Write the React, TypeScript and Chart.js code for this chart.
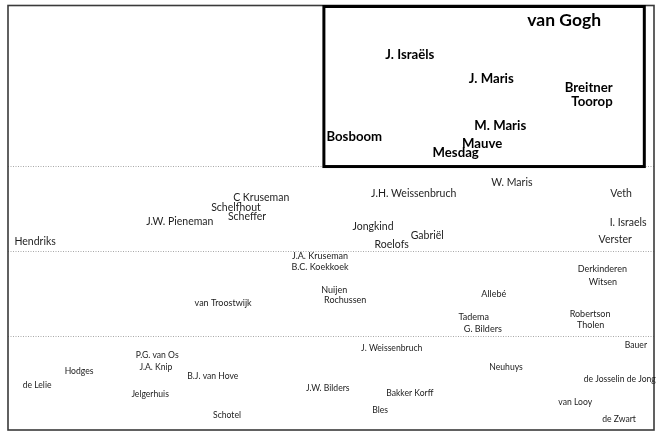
import React, { useEffect, useRef } from "react";
import { Chart, registerables } from "chart.js";

Chart.register(...registerables);

// Painter names and their positions on the chart (x: 0-100, y: 0-100)
const names = [
  "van Gogh", "J. Israëls", "J. Maris", "Breitner", "Toorop", "M. Maris", "Bosboom", "Mauve", "Mesdag",
  "C Kruseman", "Schelfhout", "Scheffer", "J.W. Pieneman", "Hendriks", "W. Maris", "J.H. Weissenbruch",
  "Veth", "Jongkind", "Gabriël", "Roelofs", "I. Israels", "Verster",
  "J.A. Kruseman", "B.C. Koekkoek", "Nuijen", "Rochussen", "van Troostwijk", "Derkinderen", "Witsen",
  "Allebé", "Tadema", "G. Bilders", "Robertson", "Tholen",
  "P.G. van Os", "J.A. Knip", "Hodges", "B.J. van Hove", "de Lelie", "Jelgerhuis", "Schotel", "J.W. Bilders",
  "J. Weissenbruch", "Bauer", "Neuhuys", "de Josselin de Jong", "Bakker Korff", "Bles", "van Looy", "de Zwart",
];
const xValues = [
  86.1, 62.2, 74.8, 89.9, 90.4, 76.2, 53.6, 73.4, 69.3,
  39.2, 35.3, 37.0, 26.6, 4.2, 78.0, 62.8,
  94.9, 56.5, 64.9, 59.4, 96.0, 94.0,
  48.3, 48.3, 50.5, 52.2, 33.3, 92.0, 92.1,
  75.2, 72.1, 73.5, 90.1, 90.2,
  23.1, 22.9, 11.0, 31.7, 4.5, 22.0, 33.9, 49.5,
  59.4, 97.2, 77.1, 94.7, 62.2, 57.6, 87.8, 94.6,
];
const yValues = [
  96.6, 88.3, 82.7, 80.6, 77.3, 71.6, 69.0, 67.4, 65.3,
  54.7, 52.3, 50.2, 49.0, 44.3, 58.2, 55.6,
  55.8, 47.8, 45.7, 43.6, 48.8, 44.8,
  41.0, 38.4, 33.0, 30.6, 29.9, 37.9, 34.9,
  32.0, 26.6, 23.8, 27.3, 24.7,
  17.7, 14.8, 13.9, 12.7, 10.6, 8.5, 3.5, 9.9,
  19.3, 20.0, 14.8, 12.0, 8.7, 4.7, 6.6, 2.6,
];
// Tier dividers (y values) and highlighted name
const tierBreaks = [22, 42, 62];
const highlighted = ["van Gogh"];
// Highlight box extent
const boxX = [48.9, 98.5];
const boxY = [62.3, 100];

const FONT = "Lato, 'Open Sans', sans-serif";

function styleFor(name: string, yv: number) {
  if (yv >= tierBreaks[2]) {
    const size = highlighted.includes(name) ? 17.5 : 13.2;
    return { font: `bold ${size}px ${FONT}`, color: "#000" };
  }
  if (yv >= tierBreaks[1]) return { font: `10.5px ${FONT}`, color: "#1e1e1e" };
  if (yv >= tierBreaks[0]) return { font: `9px ${FONT}`, color: "#222" };
  return { font: `8.6px ${FONT}`, color: "#222" };
}

const labelPlugin = {
  id: "nameLabels",
  afterDatasetsDraw(chart: any) {
    const { ctx, chartArea, scales } = chart;
    const x = scales.x;
    const y = scales.y;
    ctx.save();
    // outer frame
    ctx.strokeStyle = "#3a3a3a";
    ctx.lineWidth = 1.6;
    ctx.strokeRect(chartArea.left, chartArea.top, chartArea.right - chartArea.left, chartArea.bottom - chartArea.top);
    // highlight box
    const bx0 = x.getPixelForValue(boxX[0]);
    const bx1 = x.getPixelForValue(boxX[1]);
    const by0 = y.getPixelForValue(boxY[1]);
    const by1 = y.getPixelForValue(boxY[0]);
    ctx.strokeStyle = "#000";
    ctx.lineWidth = 3;
    ctx.strokeRect(bx0, by0 + 1, bx1 - bx0, by1 - by0);
    // labels
    const meta = chart.getDatasetMeta(0);
    ctx.textAlign = "center";
    ctx.textBaseline = "middle";
    meta.data.forEach((pt: any, i: number) => {
      const st = styleFor(names[i], yValues[i]);
      ctx.font = st.font;
      ctx.fillStyle = st.color;
      ctx.fillText(names[i], pt.x, pt.y);
    });
    ctx.restore();
  },
};

export default function App() {
  const ref = useRef<HTMLCanvasElement | null>(null);
  useEffect(() => {
    if (!ref.current) return;
    const chart = new Chart(ref.current, {
      type: "scatter",
      data: {
        datasets: [
          {
            data: names.map((_, i) => ({ x: xValues[i], y: yValues[i] })),
            pointRadius: 0,
            pointHoverRadius: 0,
          },
        ],
      },
      options: {
        animation: false,
        responsive: true,
        maintainAspectRatio: false,
        events: [],
        layout: { padding: { left: 8, top: 5.5, right: 10, bottom: 7 } },
        plugins: { legend: { display: false }, tooltip: { enabled: false } },
        scales: {
          x: { type: "linear", min: 0, max: 100, display: false },
          y: {
            type: "linear",
            min: 0,
            max: 100,
            display: true,
            afterBuildTicks: (scale: any) => {
              scale.ticks = tierBreaks.map((v) => ({ value: v }));
            },
            ticks: { display: false },
            border: { display: false, dash: [1, 1.5] },
            grid: {
              drawTicks: false,
              color: "#a8a8a8",
              lineWidth: 1,
            },
          },
        },
      },
      plugins: [labelPlugin],
    } as any);
    return () => chart.destroy();
  }, []);
  return (
    <div style={{ position: "fixed", left: 0, top: 0, width: 664, height: 437, background: "#fff" }}>
      <canvas ref={ref} />
    </div>
  );
}
